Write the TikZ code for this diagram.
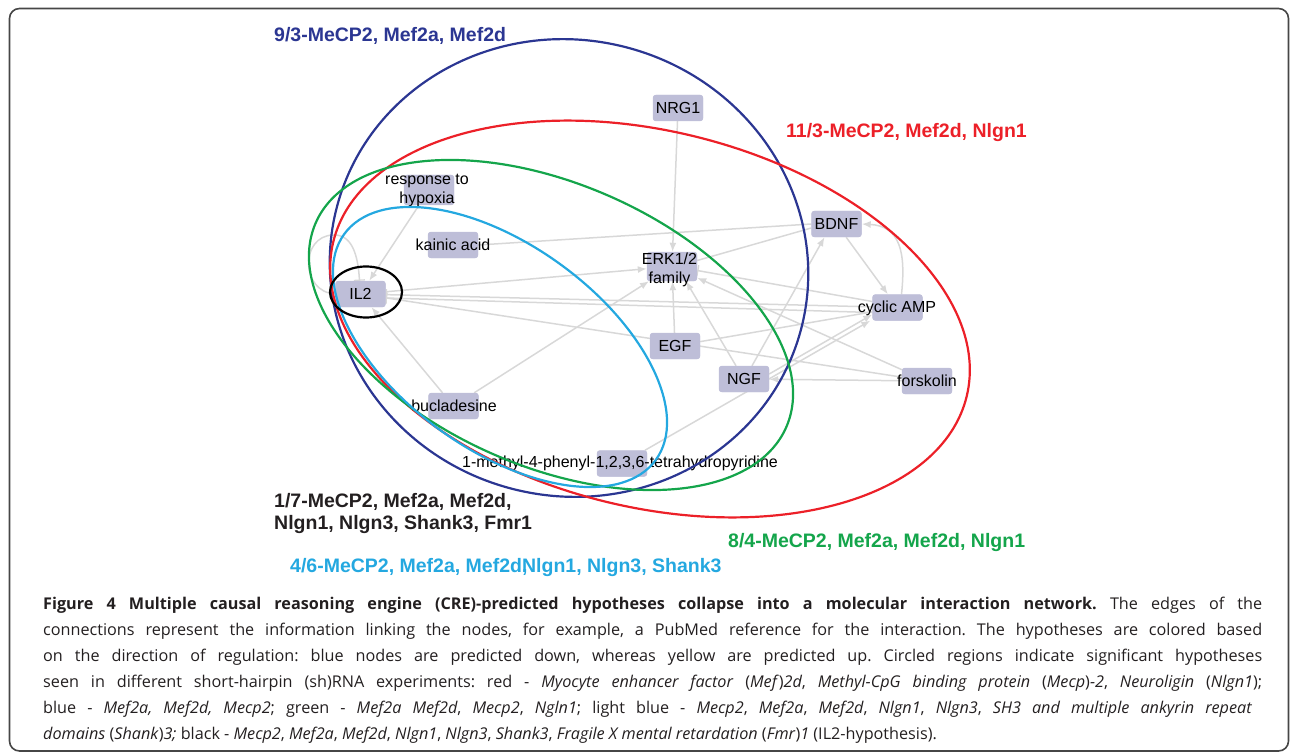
\documentclass[tikz,border=0pt]{standalone}
\usepackage{fontspec}
\setmainfont{Liberation Sans}
\newfontfamily\capfont{Open Sans}
\usetikzlibrary{arrows.meta,calc}
\definecolor{nodefill}{RGB}{190,190,216}
\definecolor{edgegray}{RGB}{216,216,216}
\definecolor{navyc}{RGB}{43,54,146}
\definecolor{redc}{RGB}{236,32,40}
\definecolor{greenc}{RGB}{20,165,75}
\definecolor{lbluec}{RGB}{36,168,224}
\definecolor{captxt}{RGB}{35,31,32}
\definecolor{framec}{RGB}{70,70,70}
\tikzset{
  nbox/.style={rectangle, rounded corners=3pt, fill=nodefill, minimum width=50pt, minimum height=26pt, inner sep=0pt},
  ntxt/.style={font=\fontsize{16}{19}\selectfont, align=center, inner sep=0pt, text=black},
  edge/.style={draw=edgegray, line width=1.5pt},
  act/.style={edge, -{Latex[length=9pt,width=7pt]}},
  inh/.style={edge, -{Bar[width=11pt,line width=1.3pt]}},
  ell/.style={line width=2.2pt},
  hlab/.style={font=\fontsize{19.5}{22}\selectfont\bfseries, anchor=base west, inner sep=0pt},
  captext/.style={font=\capfont\fontsize{16.2}{20}\selectfont\frenchspacing, anchor=base west, inner sep=0pt, text=captxt}
}
\begin{document}
\begin{tikzpicture}[x=1pt,y=-1pt]
\useasboundingbox (0,0) rectangle (1290,754);
\draw[framec, line width=1.6pt, rounded corners=10pt] (9.5,8.5) rectangle (1288.5,751);

% boxes
\node[nbox] (nrg1) at (678,108) {};
\node[nbox, minimum height=30pt] (hyp) at (429,190) {};
\node[nbox] (kain) at (453,245) {};
\node[nbox] (il2) at (360.5,294) {};
\node[nbox, minimum height=29pt] (erk) at (672,266.5) {};
\node[nbox] (bdnf) at (836.5,224) {};
\node[nbox] (camp) at (897.5,307.5) {};
\node[nbox] (egf) at (675,346) {};
\node[nbox] (ngf) at (744,379) {};
\node[nbox] (fsk) at (927,381) {};
\node[nbox] (buc) at (453.5,406) {};
\node[nbox] (mptp) at (622,463.5) {};

% edges
\draw[act] (nrg1) -- (erk);
\draw[act] (hyp) -- (il2);
\draw[inh] (il2.west) .. controls (300,292) and (300,236) .. (333,235) .. controls (352,234) and (358,255) .. ([xshift=-1pt]il2.north);
\draw[edge] (kain.east) -- (bdnf.west);
\draw[act] (il2) -- (erk);
\draw[inh] (camp) -- (il2);
\draw[inh] ([yshift=-5pt]camp.west) -- ([yshift=-4pt]il2.east);
\draw[inh] (fsk) -- (il2);
\draw[act] (buc) -- (il2);
\draw[act] (buc) -- (erk);
\draw[act] (egf) -- (erk);
\draw[act] ([xshift=-8pt]ngf.north) -- ([xshift=14pt]erk.south);
\draw[act] ([xshift=8pt]ngf.north) -- ([xshift=-12pt]bdnf.south);
\draw[act] (mptp) -- ([xshift=-2pt]camp.south west);
\draw[act] ([yshift=5pt]ngf.east) -- ([yshift=-7pt]camp.west);
\draw[edge] (egf) -- (camp);
\draw[act] (fsk) -- (ngf);
\draw[act] (fsk) -- (erk);
\draw[inh] ([yshift=6pt]camp.west) -- ([yshift=-4pt]erk.east);
\draw[edge] ([yshift=-4pt]bdnf.west) -- ([yshift=6pt]erk.east);
\draw[act] (bdnf) -- (camp);
\draw[act] ([xshift=4pt]camp.north) .. controls (906,252) and (900,226) .. (bdnf.east);

% boxes again on top of edges
\foreach \n in {nrg1,hyp,kain,il2,erk,bdnf,camp,egf,ngf,fsk,buc,mptp}{
  \fill[nodefill, rounded corners=3pt] (\n.south west) rectangle (\n.north east);
}

% texts
\node[ntxt] (tnrg1) at (nrg1) {NRG1};
\node[ntxt] (thyp) at (427,190) {response to\\hypoxia};
\node[ntxt] (tkain) at (kain) {kainic acid};
\node[ntxt] (til2) at (il2) {IL2};
\node[ntxt] (terk) at (669.5,270) {ERK1/2\\family};
\node[ntxt] (tbdnf) at (bdnf) {BDNF};
\node[ntxt] (tcamp) at (897,308) {cyclic AMP};
\node[ntxt] (tegf) at (egf) {EGF};
\node[ntxt] (tngf) at (ngf) {NGF};
\node[ntxt] (tfsk) at (fsk) {forskolin};
\node[ntxt] (tbuc) at (454,406) {bucladesine};
\node[ntxt] (tmptp) at (620,463.5) {1-methyl-4-phenyl-1,2,3,6-tetrahydropyridine};

% hypothesis ellipses
\draw[ell, navyc] [rotate around={-15:(569,268)}] (569,268) ellipse [x radius=240, y radius=228];
\draw[ell, redc] [rotate around={-13.75:(650,319)}] (650,319) ellipse [x radius=326, y radius=188];
\draw[ell, greenc] [rotate around={-23.4:(551,325)}] (551,325) ellipse [x radius=256.5, y radius=141.5];
\draw[ell, lbluec] [rotate around={-35.9:(500,347)}] (500,347) ellipse [x radius=192.4, y radius=102.4];
\draw[ell, black] (366,292) ellipse [x radius=36, y radius=25.5];

% hypothesis labels
\node[hlab, navyc] (l93) at (274,41.5) {9/3-MeCP2, Mef2a, Mef2d};
\node[hlab, redc] (l113) at (786,138) {11/3-MeCP2, Mef2d, Nlgn1};
\node[hlab, captxt] (l17a) at (274,507) {1/7-MeCP2, Mef2a, Mef2d,};
\node[hlab, captxt] (l17b) at (274,529) {Nlgn1, Nlgn3, Shank3, Fmr1};
\node[hlab, greenc] (l84) at (728,547) {8/4-MeCP2, Mef2a, Mef2d, Nlgn1};
\node[hlab, lbluec] (l46) at (290,572) {4/6-MeCP2, Mef2a, Mef2d\rlap{,}Nlgn1, Nlgn3, Shank3};

% caption
\node[captext] (c1) at (43,609) {\makebox[1219pt][s]{\textbf{Figure 4 Multiple causal reasoning engine (CRE)-predicted hypotheses collapse into a molecular interaction network.} The edges of the}};
\node[captext] (c2) at (43,635) {\makebox[1219pt][s]{connections represent the information linking the nodes, for example, a PubMed reference for the interaction. The hypotheses are colored based}};
\node[captext] (c3) at (43,661) {\makebox[1219pt][s]{on the direction of regulation: blue nodes are predicted down, whereas yellow are predicted up. Circled regions indicate significant hypotheses}};
\node[captext] (c4) at (43,687) {\makebox[1219pt][s]{seen in different short-hairpin (sh)RNA experiments: red - \textit{Myocyte enhancer factor} (\textit{Mef})\textit{2d}, \textit{Methyl-CpG binding protein} (\textit{Mecp})\textit{-2}, \textit{Neuroligin} (\textit{Nlgn1});}};
\node[captext] (c5) at (43,713) {\makebox[1209pt][s]{blue - \textit{Mef2a, Mef2d, Mecp2}; green - \textit{Mef2a Mef2d}, \textit{Mecp2}, \textit{Ngln1}; light blue - \textit{Mecp2}, \textit{Mef2a}, \textit{Mef2d}, \textit{Nlgn1}, \textit{Nlgn3}, \textit{SH3 and multiple ankyrin repeat}}};
\node[captext] (c6) at (43,739) {\textit{domains} (\textit{Shank})\textit{3;} black - \textit{Mecp2}, \textit{Mef2a}, \textit{Mef2d}, \textit{Nlgn1}, \textit{Nlgn3}, \textit{Shank3}, \textit{Fragile X mental retardation} (\textit{Fmr})\textit{1} (IL2-hypothesis).};
\end{tikzpicture}
\end{document}
